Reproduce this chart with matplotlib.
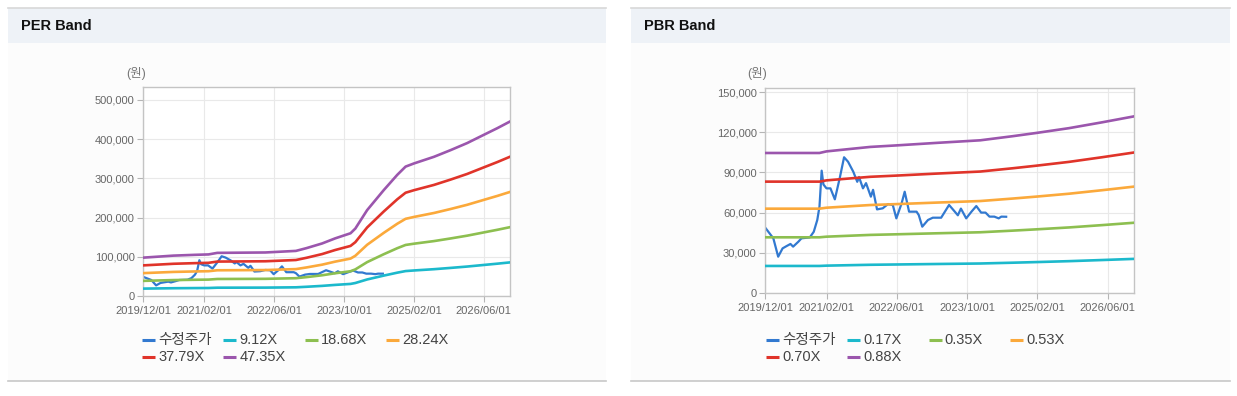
import matplotlib
matplotlib.use("Agg")
import matplotlib.pyplot as plt
from matplotlib.patches import Rectangle
from matplotlib.lines import Line2D
from matplotlib.ticker import FuncFormatter

plt.rcParams['font.family'] = ['Liberation Sans', 'Noto Sans CJK KR', 'DejaVu Sans']

# ---------------- data ----------------
tick_months = [0, 14, 30, 46, 62, 78]
tick_labels = ["2019/12/01", "2021/02/01", "2022/06/01", "2023/10/01", "2025/02/01", "2026/06/01"]

# adjusted close price (수정주가), x = months since 2019/12
price_month = [0, 1.9, 3.0, 4.0, 4.9, 5.8, 6.4, 7.6, 8.3, 10.2, 11.1, 11.9, 12.4, 12.9, 13.3,
               14.0, 14.9, 15.9, 17.0, 18.0, 18.9, 20.1, 21.0, 21.4, 22.3, 23.0, 24.1, 24.6,
               25.5, 26.8, 28.0, 29.1, 29.9, 31.1, 31.8, 32.8, 34.5, 35.0, 35.8, 37.1, 38.2,
               40.1, 41.9, 43.0, 43.9, 44.6, 45.8, 47.0, 48.1, 49.2, 50.2, 51.1, 52.2, 53.2,
               53.8, 54.9]
price = [49000, 40800, 27100, 33300, 35000, 36600, 34600, 38300, 40800, 41500, 45700, 54500,
         64400, 91300, 81000, 78100, 78100, 69900, 85600, 101300, 98000, 90500, 83000, 86600,
         78100, 82000, 71900, 77000, 62400, 63200, 66400, 65600, 55700, 66900, 75600, 60700,
         60700, 58200, 49500, 54500, 56200, 56200, 65700, 61500, 58000, 63000, 55700, 60700,
         64900, 60000, 60000, 57000, 57000, 55700, 57000, 56900]

# EPS path used for PER bands
eps_month = [0, 3, 7, 12, 15, 17, 28, 35, 37.4, 41, 44, 47.5, 48.6, 51.3, 55.1, 58.2,
             60.1, 62, 66.6, 70.4, 74.2, 78, 81.1, 84]
eps = [2065, 2112, 2175, 2218, 2239, 2323, 2344, 2429, 2577, 2830, 3105, 3379, 3633, 4625,
       5702, 6526, 6969, 7138, 7497, 7856, 8237, 8680, 9039, 9398]
per_multiples = [9.12, 18.68, 28.24, 37.79, 47.35]
per_labels = ["9.12X", "18.68X", "28.24X", "37.79X", "47.35X"]

# BPS path used for PBR bands
bps_month = [0, 12.4, 14, 20, 24, 30, 39, 49, 56.4, 61.7, 69.2, 76.8, 84]
bps = [118750, 118750, 120100, 122400, 123900, 125200, 127300, 129500, 133000, 135700,
       139800, 144800, 149800]
pbr_multiples = [0.17, 0.35, 0.53, 0.70, 0.88]
pbr_labels = ["0.17X", "0.35X", "0.53X", "0.70X", "0.88X"]

price_label = "수정주가"
price_color = "#3279d0"
band_colors = ["#1cb9cc", "#8dbf50", "#fba93b", "#e0342a", "#9b56ad"]

# ---------------- figure ----------------
W, H = 1237, 396
fig = plt.figure(figsize=(W / 100, H / 100), dpi=100)
fig.patch.set_facecolor("white")

def fx(x):
    return x / W

def fy(y):
    return 1 - y / H

def panel(x0, x1, title):
    fig.patches.append(Rectangle((fx(x0), fy(381)), fx(x1 - x0), (381 - 43) / H,
                                 transform=fig.transFigure, facecolor="#fcfcfc",
                                 edgecolor="none", zorder=-10))
    fig.patches.append(Rectangle((fx(x0), fy(43)), fx(x1 - x0), (43 - 8) / H,
                                 transform=fig.transFigure, facecolor="#eef2f7",
                                 edgecolor="none", zorder=-10))
    fig.add_artist(Line2D([fx(x0), fx(x1)], [fy(7.5), fy(7.5)], transform=fig.transFigure,
                          color="#d8d8d8", lw=1.2, zorder=-5))
    fig.add_artist(Line2D([fx(x0), fx(x1)], [fy(381), fy(381)], transform=fig.transFigure,
                          color="#c8c8c8", lw=1.2, zorder=-5))
    fig.text(fx(x0 + 13), fy(26), title, fontsize=10.5, fontweight="bold", color="#111",
             va="center", ha="left")

panel(8, 606, "PER Band")
panel(631, 1230, "PBR Band")

def make_axes(left, right, top, bottom):
    ax = fig.add_axes([fx(left), fy(bottom), fx(right - left), (bottom - top) / H])
    ax.set_zorder(1)
    ax.set_facecolor("white")
    for s in ax.spines.values():
        s.set_color("#c4c4c4")
        s.set_linewidth(1)
    ax.grid(True, color="#e9e9e9", lw=0.8)
    ax.set_axisbelow(True)
    ax.tick_params(axis="both", length=4, color="#b5b5b5", labelsize=8, labelcolor="#666666")
    ax.tick_params(axis="y", pad=2)
    ax.tick_params(axis="x", pad=3)
    ax.set_xticks(tick_months)
    ax.set_xticklabels(tick_labels)
    ax.set_xlim(0, 84)
    ax.yaxis.set_major_formatter(FuncFormatter(lambda v, p: f"{int(v):,}"))
    return ax

def legend(x0, labels):
    items = [(price_label, price_color)] + list(zip(labels, band_colors))
    for i, (lab, col) in enumerate(items):
        c, r = i % 4, i // 4
        x = x0 + c * 81.3
        y = 340 + r * 17
        fig.add_artist(Line2D([fx(x), fx(x + 13)], [fy(y), fy(y)], transform=fig.transFigure,
                              color=col, lw=2.2, solid_capstyle="butt"))
        fig.text(fx(x + 16), fy(y), lab, fontsize=10.5, color="#444444", va="center", ha="left")

# ---- PER chart ----
ax1 = make_axes(143, 510, 87, 296)
ax1.plot(price_month, price, color=price_color, lw=1.6, zorder=2)
for m, col in zip(per_multiples, band_colors):
    ax1.plot(eps_month, [m * e for e in eps], color=col, lw=1.9, zorder=3)
ax1.set_ylim(0, 533000)
ax1.set_yticks([0, 100000, 200000, 300000, 400000, 500000])
fig.text(fx(136), fy(74), "(원)", fontsize=9, color="#777777", ha="center", va="center")
legend(142, per_labels)

# ---- PBR chart ----
ax2 = make_axes(765, 1134, 88, 293)
ax2.plot(price_month, price, color=price_color, lw=1.6, zorder=2)
for m, col in zip(pbr_multiples, band_colors):
    ax2.plot(bps_month, [m * b for b in bps], color=col, lw=1.9, zorder=3)
ax2.set_ylim(0, 153000)
ax2.set_yticks([0, 30000, 60000, 90000, 120000, 150000])
fig.text(fx(757), fy(74), "(원)", fontsize=9, color="#777777", ha="center", va="center")
legend(766, pbr_labels)

fig.savefig("out.png", dpi=100)
